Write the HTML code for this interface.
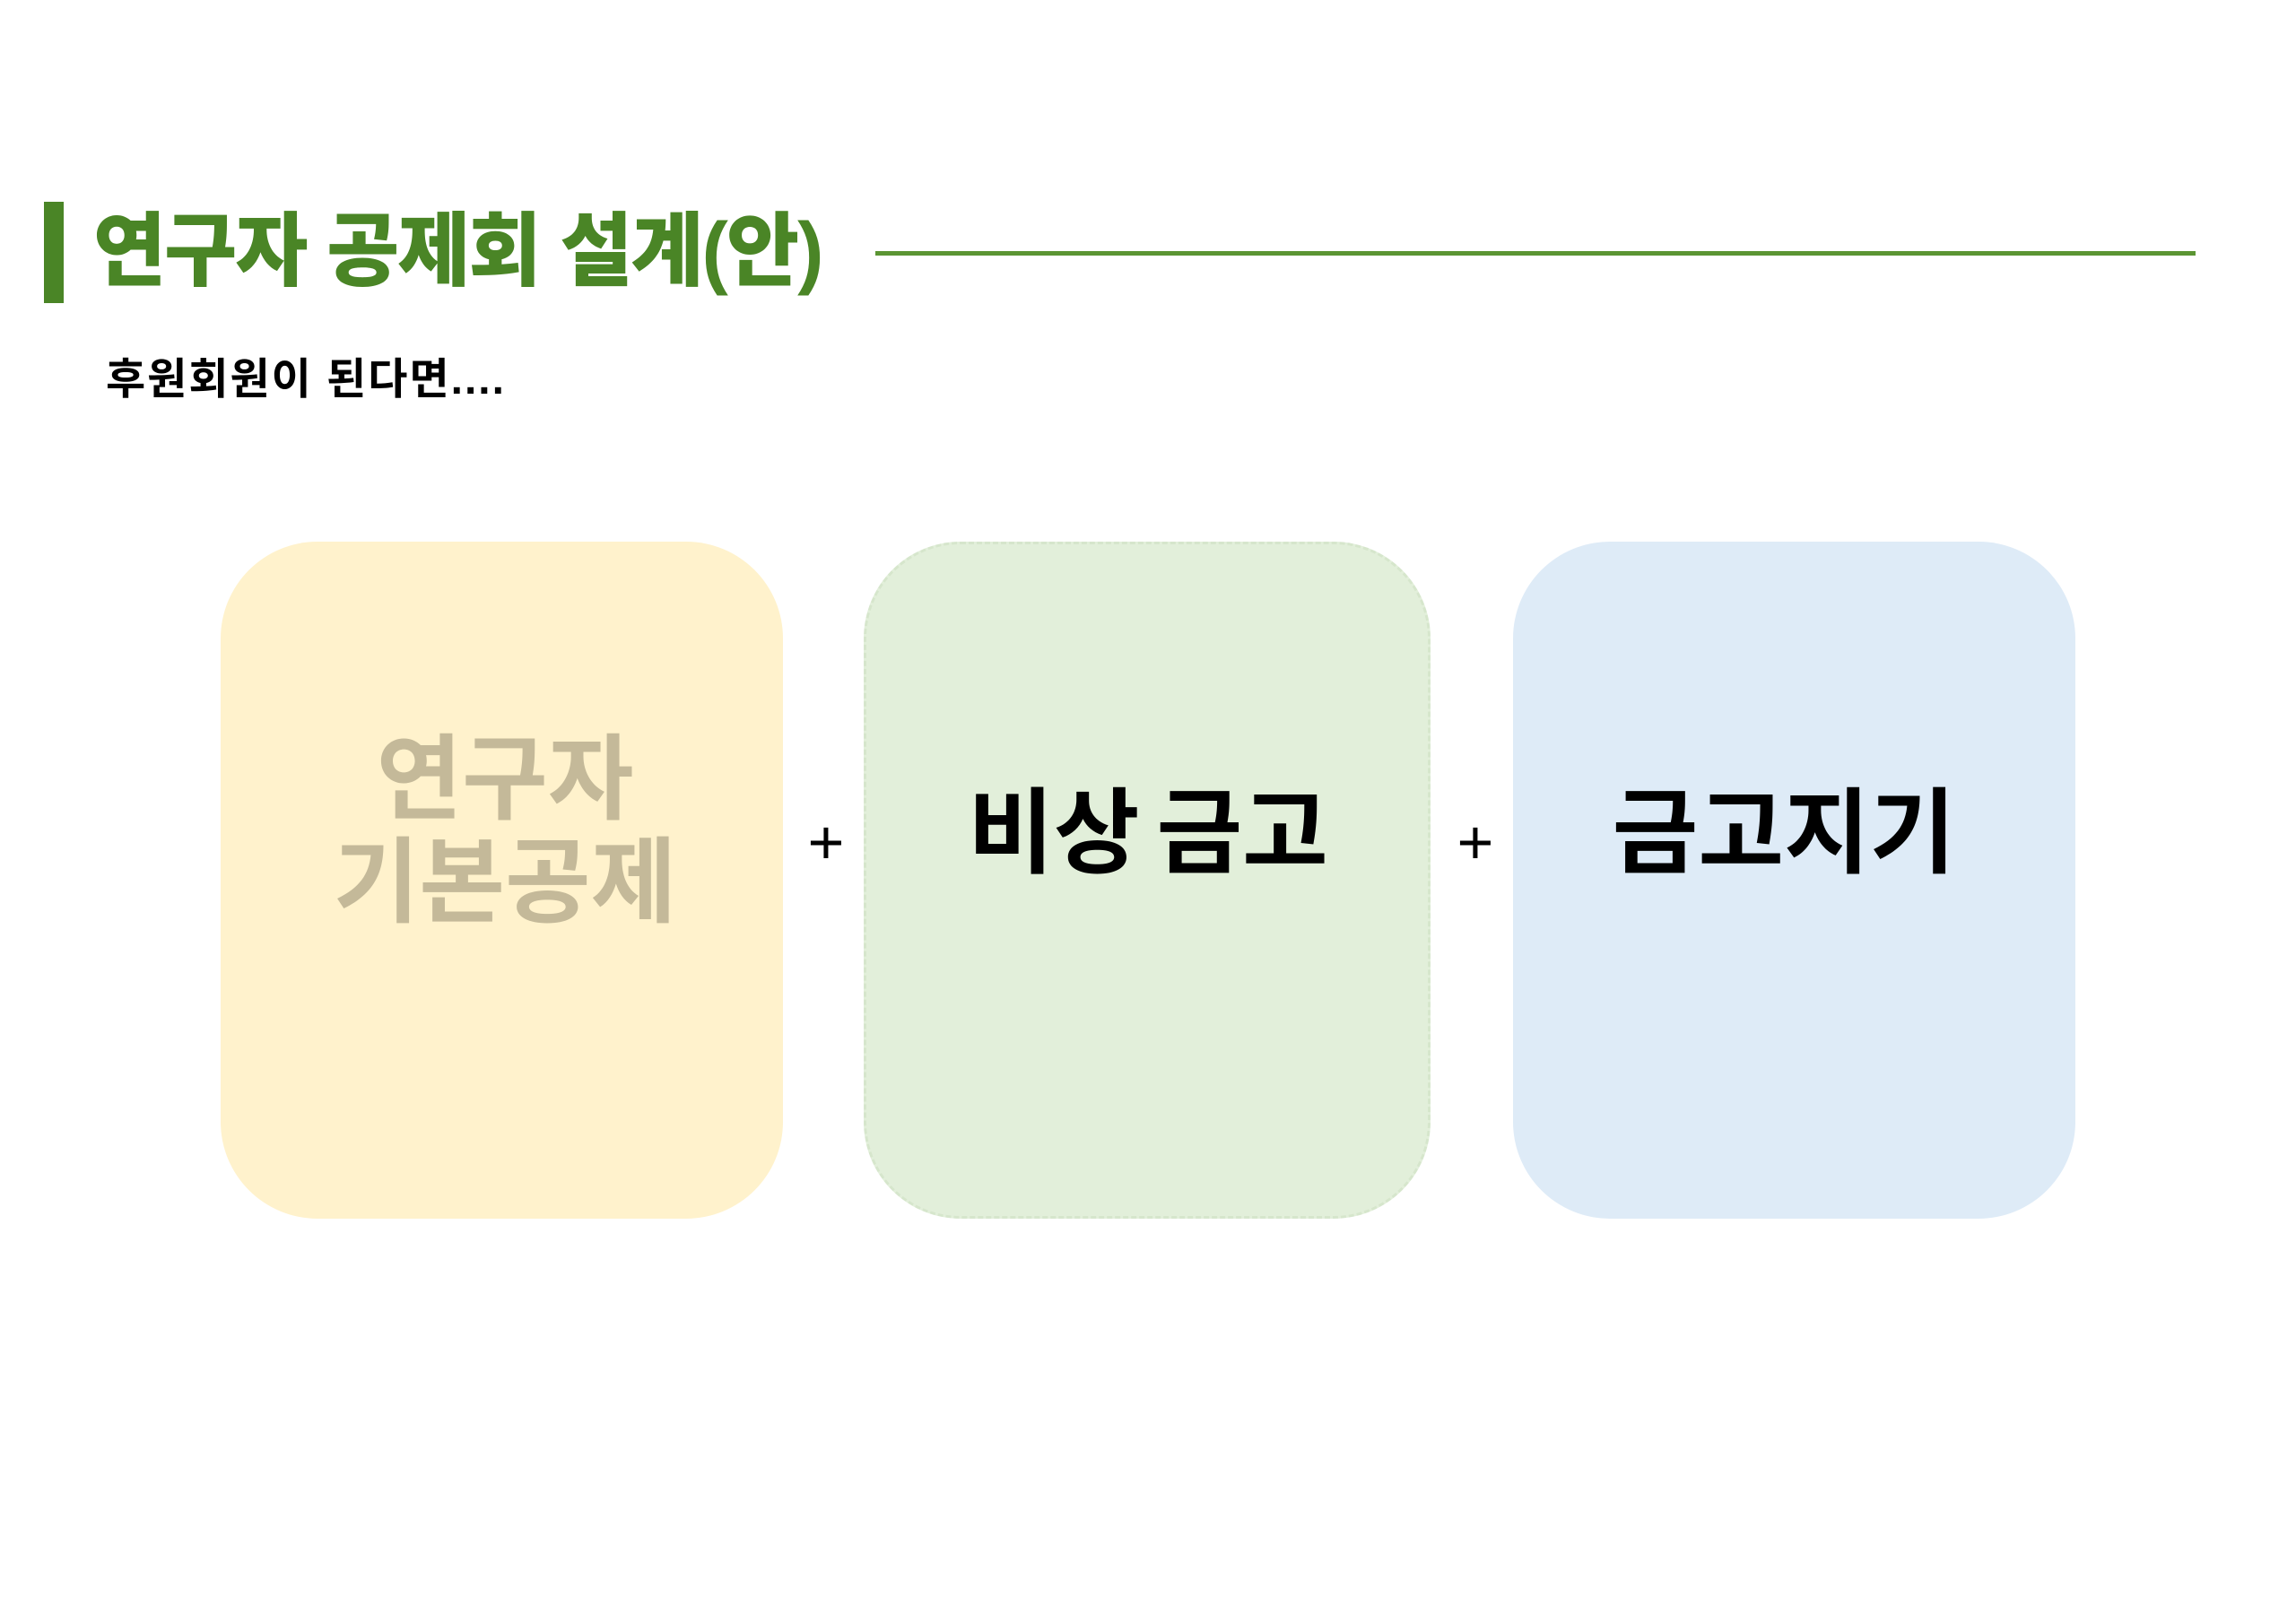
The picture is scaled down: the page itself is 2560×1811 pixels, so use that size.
<!DOCTYPE html>
<html><head><meta charset="utf-8"><style>
body{margin:0;width:2560px;height:1811px;background:#fff;position:relative;overflow:hidden;font-family:"Liberation Sans","Noto Sans CJK KR",sans-serif}
.a{position:absolute}
.box{position:absolute;top:604px;height:755px;border-radius:108px}
.t{position:absolute;white-space:nowrap;transform:translate(-50%,-50%);font-weight:700;line-height:1}
</style></head><body>
<div class="a" style="left:49px;top:225px;width:22px;height:113px;background:#4a8526"></div>
<div class="a" style="left:104px;top:236px;font-size:90px;font-weight:900;color:#4a8526;line-height:1;white-space:nowrap;letter-spacing:-2px;transform:scaleX(0.98);transform-origin:top left">연구자 공제회 설계(안)</div>
<div class="a" style="left:976px;top:280px;width:1472px;height:5px;background:#5b9533"></div>
<div class="a" style="left:118px;top:400px;font-size:48px;font-weight:700;color:#000;line-height:1;white-space:nowrap;letter-spacing:2px">후원회원이 된다면....</div>
<div class="box" style="left:246px;width:627px;background:#fff2cc"></div>
<div class="box" style="left:963px;width:632px;background:#e2efda;border:3px dashed #d6e6cc;box-sizing:border-box"></div>
<div class="box" style="left:1687px;width:627px;background:#deebf7"></div>
<div class="t" style="left:563px;top:870px;font-size:104px;color:#c4b999">연구자</div>
<div class="t" style="left:563px;top:985px;font-size:104px;color:#c4b999">기본공제</div>
<div class="t" style="left:921px;top:939px;font-size:70px;font-weight:400;color:#000">+</div>
<div class="t" style="left:1280px;top:930px;font-size:104px;color:#000;word-spacing:-10px">비상 금고</div>
<div class="t" style="left:1645px;top:939px;font-size:70px;font-weight:400;color:#000">+</div>
<div class="t" style="left:1989px;top:930px;font-size:104px;color:#000">금고지기</div>
</body></html>
